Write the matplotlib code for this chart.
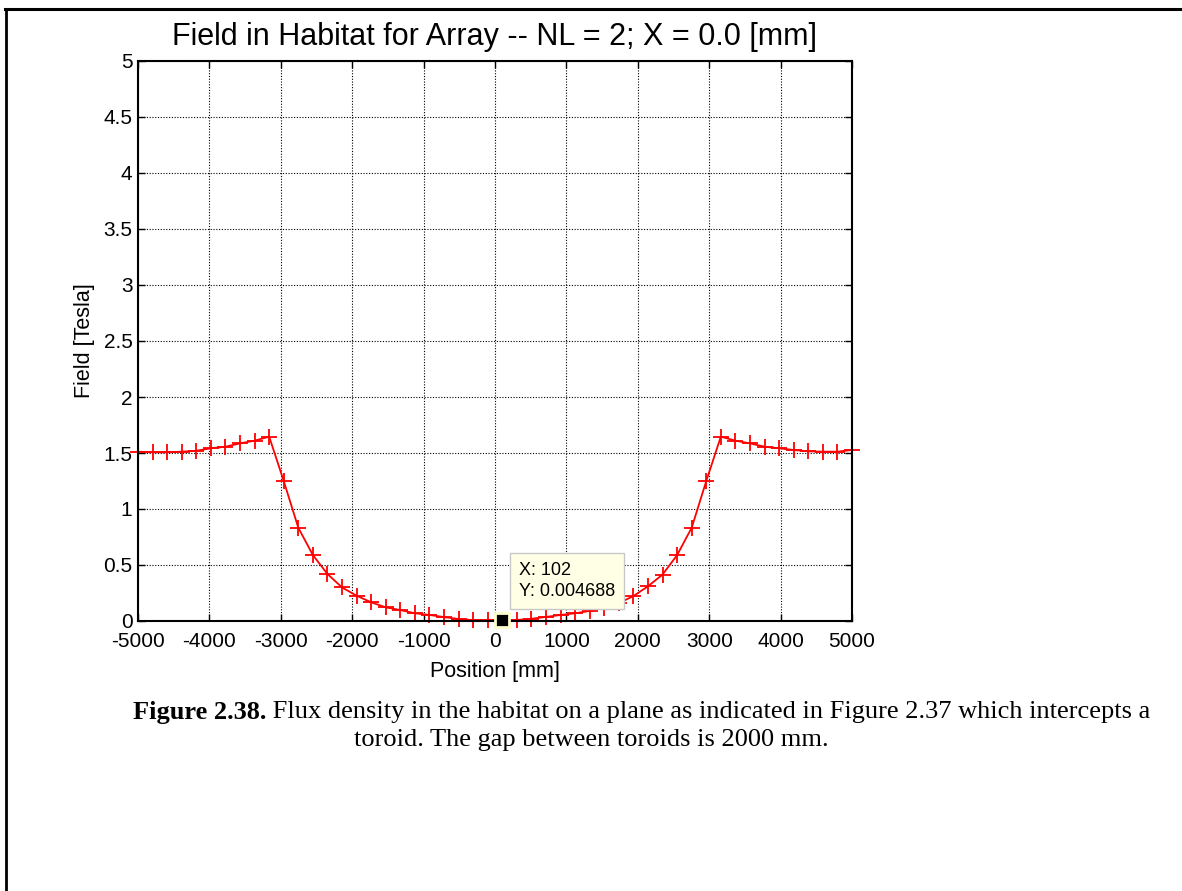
"""Field in habitat along a line through a toroid array (NL = 2)."""

import matplotlib
matplotlib.use('Agg')
import matplotlib.pyplot as plt
from matplotlib.lines import Line2D

FIG_W, FIG_H, DPI = 11.82, 8.91, 100

TITLE = 'Field in Habitat for Array -- NL = 2; X = 0.0 [mm]'
X_LABEL = 'Position [mm]'
Y_LABEL = 'Field [Tesla]'

POSITION_MM = [
    -5000, -4796, -4592, -4388, -4184, -3980, -3776, -3571, -3367, -3163,
    -2959, -2755, -2551, -2347, -2143, -1939, -1735, -1531, -1327, -1122,
    -918, -714, -510, -306, -102,
    102, 306, 510, 714, 918, 1122, 1327, 1531, 1735, 1939,
    2143, 2347, 2551, 2755, 2959, 3163, 3367, 3571, 3776, 3980,
    4184, 4388, 4592, 4796, 5000,
]
FIELD_T = [
    1.512, 1.506, 1.506, 1.512, 1.520, 1.542, 1.556, 1.586, 1.610, 1.646,
    1.250, 0.833, 0.589, 0.420, 0.300, 0.226, 0.167, 0.122, 0.098, 0.069,
    0.054, 0.035, 0.018, 0.008, 0.0047,
    0.004688, 0.009, 0.020, 0.036, 0.054, 0.069, 0.090, 0.118, 0.160, 0.223,
    0.310, 0.415, 0.589, 0.833, 1.250, 1.646, 1.610, 1.586, 1.556, 1.542,
    1.527, 1.515, 1.512, 1.512, 1.527,
]

X_TICKS = [-5000, -4000, -3000, -2000, -1000, 0, 1000, 2000, 3000, 4000, 5000]
Y_TICKS = [0, 0.5, 1, 1.5, 2, 2.5, 3, 3.5, 4, 4.5, 5]
Y_TICK_LABELS = ['0', '0.5', '1', '1.5', '2', '2.5', '3', '3.5', '4', '4.5', '5']

TIP_X = 102
TIP_Y = 0.004688

CAPTION_BOLD = 'Figure 2.38.'
CAPTION_LINE1 = (' Flux density in the habitat on a plane as indicated in '
                 'Figure 2.37 which intercepts a')
CAPTION_LINE2 = 'toroid. The gap between toroids is 2000 mm.'

SANS = 'Liberation Sans'
SERIF = 'Liberation Serif'
CAPTION_SIZE = 19


def px_x(px):
    return px / (FIG_W * DPI)


def px_y(px):
    return 1.0 - px / (FIG_H * DPI)


def main():
    fig = plt.figure(figsize=(FIG_W, FIG_H), dpi=DPI)

    # page border fragments (top and left edges of a framed figure)
    fig.add_artist(Line2D([px_x(5), px_x(1182)], [px_y(9), px_y(9)],
                          color='black', linewidth=2.2))
    fig.add_artist(Line2D([px_x(6), px_x(6)], [px_y(9), px_y(891)],
                          color='black', linewidth=2.0))

    left, right, top, bottom = 138, 852, 61, 621
    ax = fig.add_axes([px_x(left), px_y(bottom),
                       px_x(right - left), (bottom - top) / (FIG_H * DPI)])

    ax.plot(POSITION_MM, FIELD_T, color='red', linewidth=1.3,
            marker='+', markersize=11, markeredgewidth=1.3, clip_on=False)
    ax.plot([TIP_X], [TIP_Y], marker='s', markersize=9.5, color='black',
            markeredgecolor='#ffffcc', markeredgewidth=2.0, clip_on=False,
            zorder=5)

    ax.set_xlim(-5000, 5000)
    ax.set_ylim(0, 5)
    ax.set_xticks(X_TICKS)
    ax.set_xticklabels([str(t) for t in X_TICKS])
    ax.set_yticks(Y_TICKS)
    ax.set_yticklabels(Y_TICK_LABELS)

    ax.grid(True, color='black', linestyle=(0, (1, 1.5)), linewidth=0.8)
    ax.tick_params(direction='in', length=5, width=1.0, top=True, right=True,
                   labelsize=15, colors='black')
    ax.tick_params(axis='x', pad=8)
    ax.tick_params(axis='y', pad=4)
    for lbl in ax.get_xticklabels() + ax.get_yticklabels():
        lbl.set_fontfamily(SANS)
    for spine in ax.spines.values():
        spine.set_linewidth(1.5)

    ax.set_xlabel(X_LABEL, fontsize=15.5, family=SANS, labelpad=7)
    ax.set_ylabel(Y_LABEL, fontsize=15.5, family=SANS, labelpad=6)

    fig.text(px_x(495), px_y(37), TITLE, ha='center', va='center',
             fontsize=22, family=SANS)

    # data tip box
    fig.text(px_x(519), px_y(581), 'X: 102\nY: 0.004688', ha='left',
             va='center', fontsize=13, family=SANS, linespacing=1.3,
             bbox=dict(boxstyle='square,pad=0.5', facecolor='#ffffe6',
                       edgecolor='#c8c8c8', linewidth=1.0), zorder=6)

    # caption
    fig.canvas.draw()
    renderer = fig.canvas.get_renderer()
    bold = fig.text(px_x(133), px_y(712), CAPTION_BOLD, ha='left',
                    va='center', fontsize=CAPTION_SIZE, family=SERIF,
                    fontweight='bold')
    bb = bold.get_window_extent(renderer)
    fig.text(bb.x1 / (FIG_W * DPI), px_y(712), CAPTION_LINE1, ha='left',
             va='center', fontsize=CAPTION_SIZE, family=SERIF)
    fig.text(px_x(591), px_y(740), CAPTION_LINE2, ha='center', va='center',
             fontsize=CAPTION_SIZE, family=SERIF)

    fig.savefig('out.png', dpi=DPI)
    plt.close(fig)


if __name__ == '__main__':
    main()
